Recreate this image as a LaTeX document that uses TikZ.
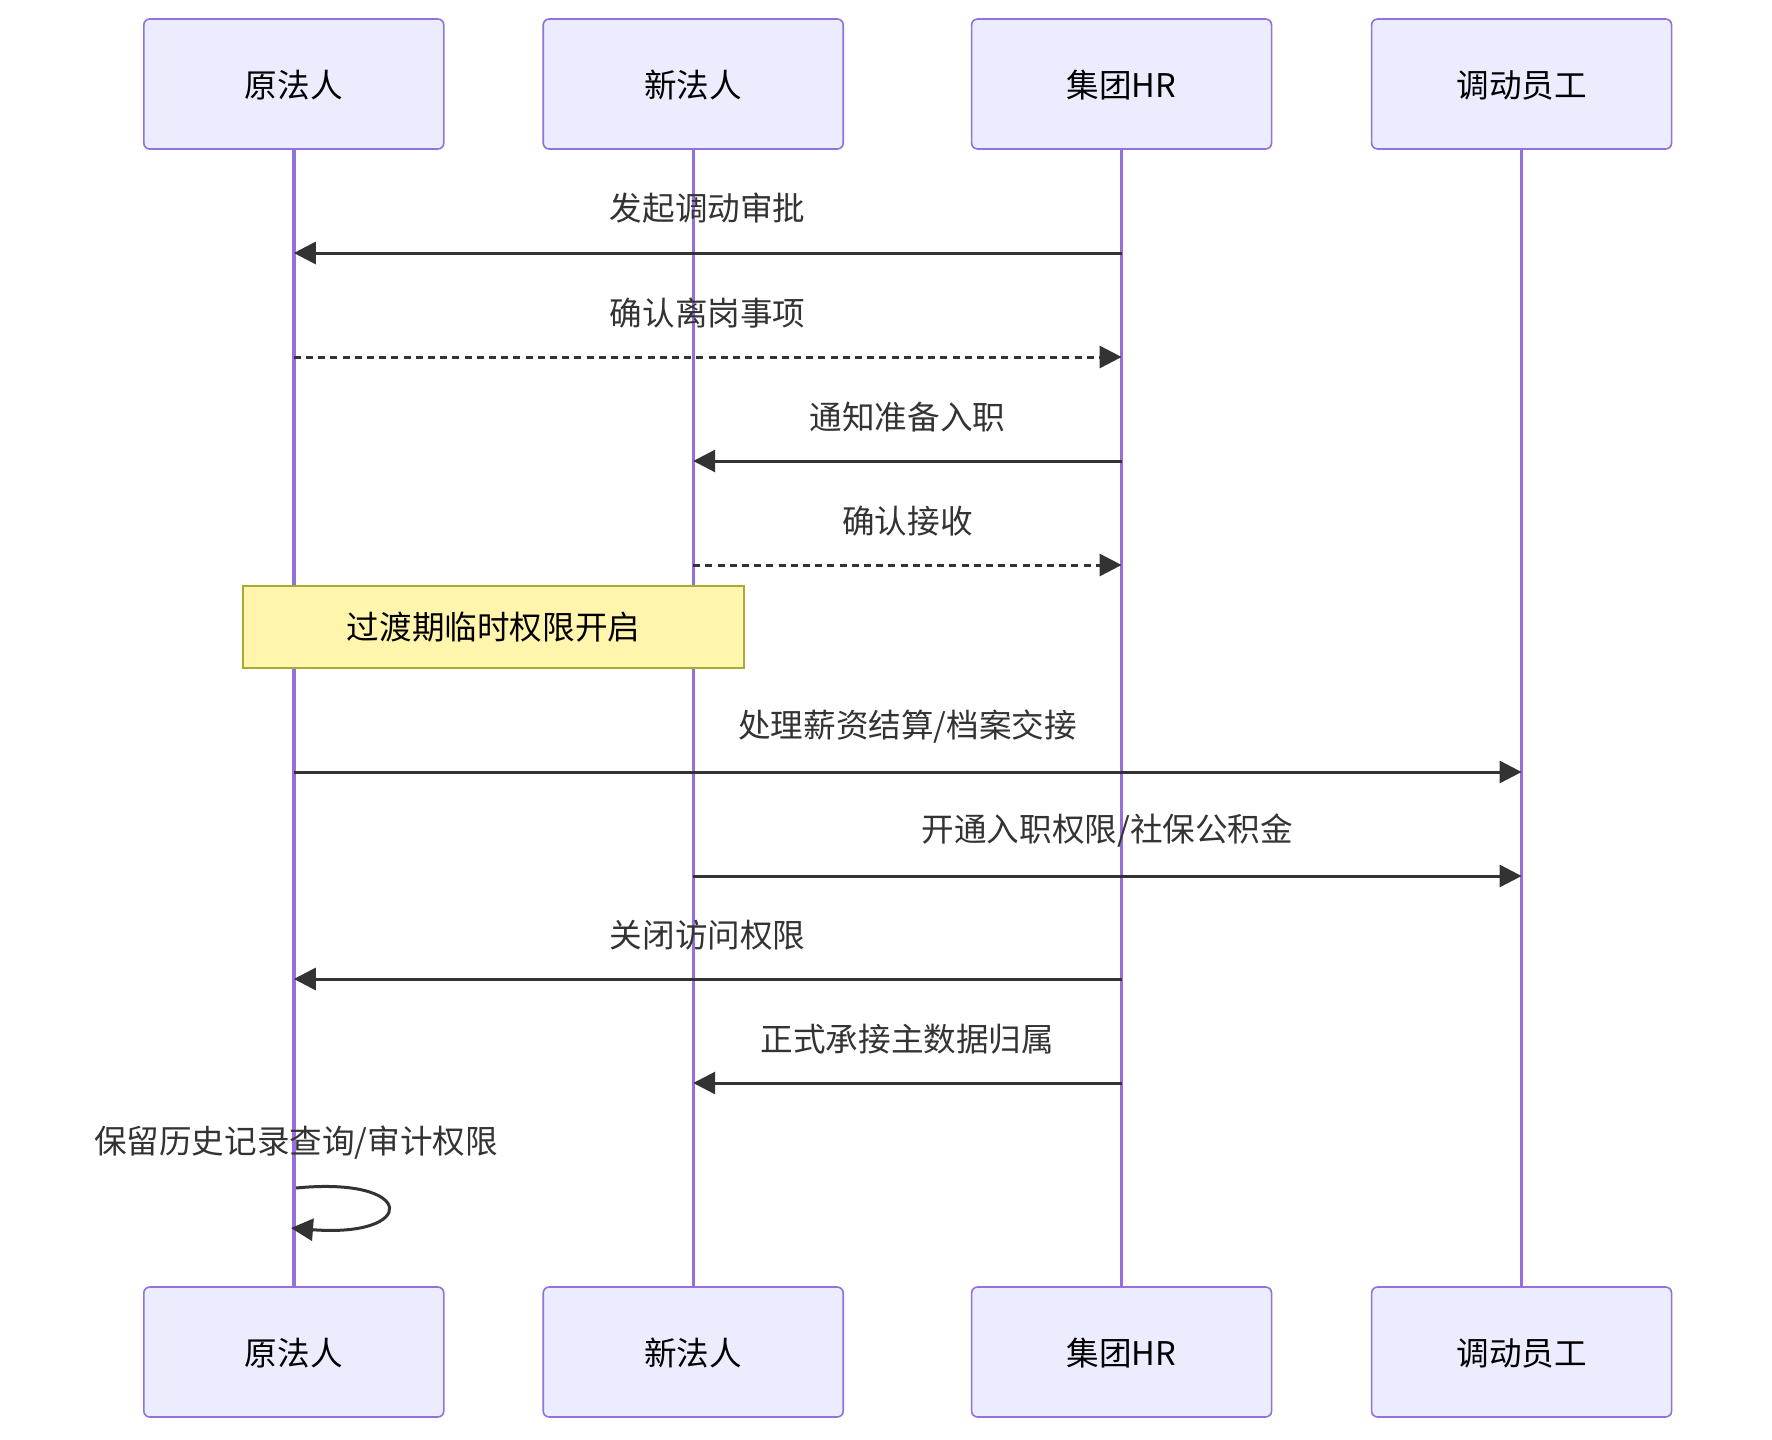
\documentclass[tikz,border=0pt]{standalone}
\usepackage{fontspec}
\setmainfont{Noto Sans CJK SC}
\usepackage{tikz}
\usetikzlibrary{arrows.meta}
\definecolor{actorfill}{HTML}{ECECFF}
\definecolor{actorline}{HTML}{9370DB}
\definecolor{notefill}{HTML}{FFF5AD}
\definecolor{noteline}{HTML}{AAAA33}
\definecolor{msgcol}{HTML}{333333}

\begin{document}
\begin{tikzpicture}[x=0.5pt, y=-0.5pt,
    actor/.style={draw=actorline, fill=actorfill, rounded corners=3pt, line width=0.8pt, minimum width=150pt, minimum height=65pt, text depth=0pt, font=\fontsize{16.3}{19}\selectfont},
    life/.style={draw=actorline, line width=1.7pt},
    msg/.style={-{Triangle[length=11pt,width=11pt]}, draw=msgcol, line width=1.5pt},
    reply/.style={msg, dash pattern=on 3.5pt off 2.6pt},
    lbl/.style={text=msgcol, font=\fontsize{16.3}{19}\selectfont},
    notebox/.style={draw=noteline, fill=notefill, line width=0.8pt, minimum width=250.5pt, minimum height=41pt, font=\fontsize{16.3}{19}\selectfont}
]
    \useasboundingbox[fill=white] (0,0) rectangle (1772,1440);
    % actors
    \node[actor] (ylT) at (293.8,84) {原法人};
    \node[actor] (xlT) at (693.2,84) {新法人};
    \node[actor] (hrT) at (1121.6,84) {集团HR};
    \node[actor] (ygT) at (1521.6,84) {调动员工};
    \node[actor] (ylB) at (293.8,1352) {原法人};
    \node[actor] (xlB) at (693.2,1352) {新法人};
    \node[actor] (hrB) at (1121.6,1352) {集团HR};
    \node[actor] (ygB) at (1521.6,1352) {调动员工};
    \draw[life] (ylT) -- (ylB);
    \draw[life] (xlT) -- (xlB);
    \draw[life] (hrT) -- (hrB);
    \draw[life] (ygT) -- (ygB);
    % message rows
    \coordinate (r1) at (0,253);
    \coordinate (r2) at (0,357);
    \coordinate (r3) at (0,461);
    \coordinate (r4) at (0,565);
    \coordinate (r6) at (0,772);
    \coordinate (r7) at (0,876);
    \coordinate (r8) at (0,979);
    \coordinate (r9) at (0,1083);
    \draw[msg] (hrT |- r1) -- (ylT |- r1) node[lbl, midway, above=10.5pt] {发起调动审批};
    \draw[reply] (ylT |- r2) -- (hrT |- r2) node[lbl, midway, above=10.5pt] {确认离岗事项};
    \draw[msg] (hrT |- r3) -- (xlT |- r3) node[lbl, midway, above=10.5pt] {通知准备入职};
    \draw[reply] (xlT |- r4) -- (hrT |- r4) node[lbl, midway, above=10.5pt] {确认接收};
    \node[notebox] (tmp) at (493.5,626.7) {过渡期临时权限开启};
    \draw[msg] (ylT |- r6) -- (ygT |- r6) node[lbl, midway, above=10.5pt] {处理薪资结算/档案交接};
    \draw[msg] (xlT |- r7) -- (ygT |- r7) node[lbl, midway, above=10.5pt] {开通入职权限/社保公积金};
    \draw[msg] (hrT |- r8) -- (ylT |- r8) node[lbl, midway, above=10.5pt] {关闭访问权限};
    \draw[msg] (hrT |- r9) -- (xlT |- r9) node[lbl, midway, above=10.5pt] {正式承接主数据归属};
    % self message
    \node[lbl] (keep) at (296,1143) {保留历史记录查询/审计权限};
    \coordinate (s1) at (296,1188);
    \coordinate (s2) at (291,1228);
    \draw[msg] (s1) .. controls (418,1176) and (418,1238) .. (s2);
\end{tikzpicture}
\end{document}
